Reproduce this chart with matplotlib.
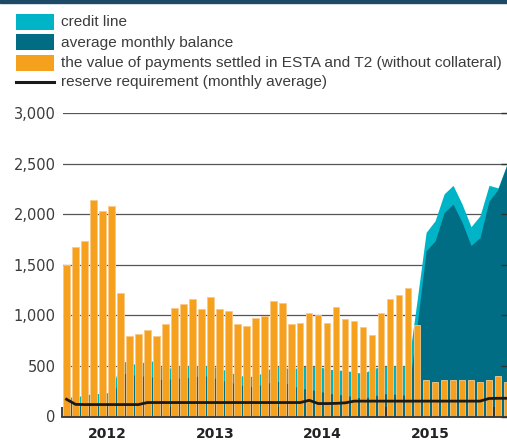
import matplotlib
matplotlib.use("Agg")
import matplotlib.pyplot as plt
from matplotlib.patches import Rectangle
from matplotlib.lines import Line2D
import numpy as np

# Monthly series, Jan 2012 - Feb 2016 (CZK million)
months = [f"{y}-{m:02d}" for y in range(2012, 2017) for m in range(1, 13)][:50]

payments = [1500, 1680, 1730, 2140, 2030, 2080, 1220, 800, 815, 855, 800, 910,
            1070, 1110, 1160, 1065, 1185, 1065, 1045, 910, 890, 970, 990, 1145,
            1120, 910, 925, 1025, 1005, 925, 1085, 965, 945, 885, 810, 1025,
            1160, 1200, 1275, 905, 365, 345, 365, 365, 365, 365, 345, 365,
            400, 345]

credit_line = [195, 190, 215, 225, 230, 240, 550, 535, 505, 565, 530, 460,
               500, 500, 500, 500, 500, 480, 445, 410, 395, 400, 440, 495,
               495, 465, 490, 500, 495, 470, 460, 455, 440, 425, 470, 495,
               500, 500, 500, 1150, 1820, 1935, 2200, 2285, 2100, 1876, 1985, 2285,
               2260, 2495]

avg_balance = [150, 140, 130, 135, 135, 135, 430, 420, 400, 400, 380, 355,
               385, 375, 395, 400, 400, 360, 345, 320, 295, 300, 320, 345,
               345, 310, 280, 265, 255, 230, 220, 210, 195, 180, 200, 220,
               230, 210, 215, 900, 1640, 1735, 2015, 2100, 1920, 1690, 1770, 2130,
               2245, 2490]

reserve_req = [170, 120, 118, 118, 118, 118, 118, 118, 118, 138, 138, 138,
               138, 138, 138, 138, 138, 138, 138, 138, 138, 138, 138, 138,
               138, 138, 138, 160, 128, 128, 130, 135, 152, 152, 152, 152,
               152, 152, 152, 152, 152, 152, 152, 152, 152, 152, 152, 178,
               180, 180]

years = ["2012", "2013", "2014", "2015"]
y_ticks = [0, 500, 1000, 1500, 2000, 2500, 3000]

legend_labels = ["credit line",
                 "average monthly balance",
                 "the value of payments settled in ESTA and T2 (without collateral)",
                 "reserve requirement (monthly average)"]

CYAN = "#00b4c8"
TEAL = "#006d84"
ORANGE = "#f5a11e"
NAVY = "#1d4866"
TEXT = "#3c3c3c"

W, H = 507, 441
fig = plt.figure(figsize=(W / 100, H / 100), dpi=100)
plt.rcParams["font.family"] = ["DejaVu Sans"]


def fx(px):
    return px / W


def fy(py):
    return 1 - py / H


ax = fig.add_axes([fx(62.5), fy(416.5), fx(507) - fx(62.5), fy(113) - fy(416.5)])

x = np.arange(len(months))

for v in y_ticks[1:]:
    ax.axhline(v, color="#555555", lw=0.9, zorder=0)

ax.fill_between(x, credit_line, color=CYAN, lw=0, zorder=1)
ax.fill_between(x, avg_balance, color=TEAL, lw=0, zorder=1.5)
ax.bar(x, payments, width=0.72, color=ORANGE, edgecolor="#f9c98a",
       linewidth=0.6, zorder=2)
ax.plot(x, reserve_req, color="#1a1a1a", lw=2.0, zorder=4,
        solid_joinstyle="round")

ax.set_xlim(-0.45, 49.0)
ax.set_ylim(0, 3000)

for s in ["top", "left", "right"]:
    ax.spines[s].set_visible(False)
ax.spines["bottom"].set_color("#333333")
ax.spines["bottom"].set_linewidth(1.3)
ax.spines["bottom"].set_zorder(5)

ax.set_yticks(y_ticks)
ax.set_yticklabels([f"{v:,}" for v in y_ticks])
ax.tick_params(axis="y", left=False, right=True, direction="in", length=4,
               width=1.0, color="#333333", labelsize=10.5, labelcolor=TEXT,
               pad=5)

ax.set_xticks([-0.45, 11.5, 23.5, 35.5, 47.5])
ax.set_xticklabels([])
ax.set_xticks([4.5 + 12 * i for i in range(len(years))], minor=True)
ax.set_xticklabels(years, minor=True, fontweight="bold", fontsize=10,
                   color="#222222")
ax.tick_params(axis="x", which="major", direction="in", length=7, width=1.3,
               color="#333333")
ax.tick_params(axis="x", which="minor", length=0, pad=7.5)

# Header band
fig.patches.append(Rectangle((0, fy(3)), 1, fy(0) - fy(3), transform=fig.transFigure,
                             color=NAVY, zorder=10))

# Legend
rows = [22, 42, 62.5, 81.5]
colors = [CYAN, TEAL, ORANGE]
for i, (row, lab) in enumerate(zip(rows, legend_labels)):
    if i < 3:
        fig.patches.append(Rectangle((fx(16), fy(row + 8)), fx(54) - fx(16), fy(row - 8) - fy(row + 8),
                                     transform=fig.transFigure, color=colors[i], lw=0))
    else:
        fig.lines.append(Line2D([fx(16), fx(54)], [fy(row), fy(row)],
                                transform=fig.transFigure, color="#1a1a1a", lw=2.2))
    fig.text(fx(61), fy(row + 4.5), lab, fontsize=11.1, color=TEXT, va="baseline",
             ha="left", family=["Liberation Sans", "DejaVu Sans"])

fig.savefig("out.png", dpi=100)
